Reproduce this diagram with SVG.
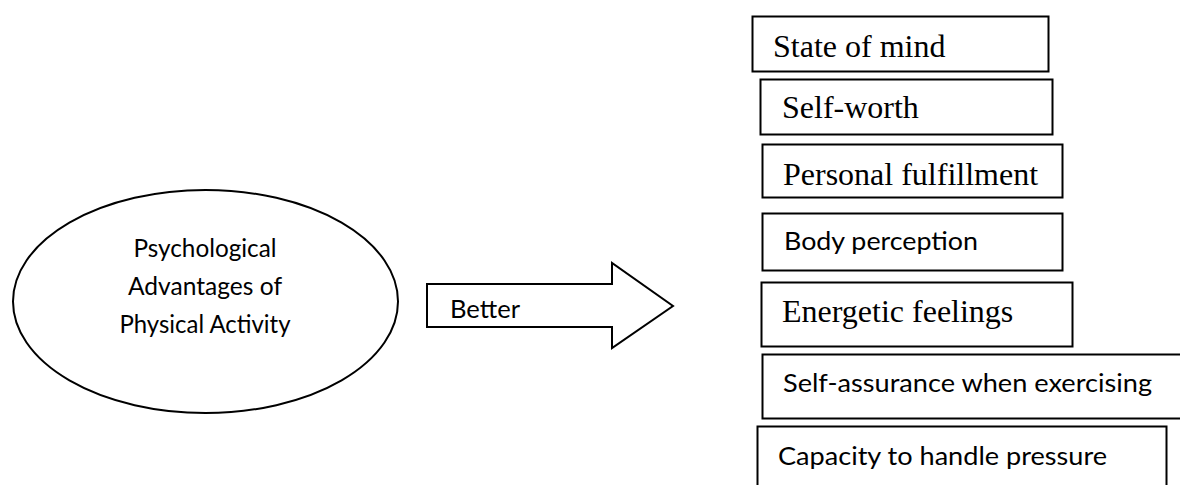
<svg xmlns="http://www.w3.org/2000/svg" width="1180" height="485" viewBox="0 0 1180 485">
  <style>
    .shape { fill: #ffffff; stroke: #000000; stroke-width: 2; }
    .serif { font-family: "Liberation Serif", "Times New Roman", serif; font-size: 32px; fill: #000000; }
    .sans { font-family: Lato, "Liberation Sans", sans-serif; font-size: 25px; fill: #000000; }
  </style>
  <rect x="0" y="0" width="1180" height="485" fill="#ffffff"/>

  <g id="node-center">
    <ellipse class="shape" cx="205.5" cy="301.5" rx="192.5" ry="111.5"/>
    <text class="sans" x="205" y="257" text-anchor="middle" textLength="143" lengthAdjust="spacingAndGlyphs">Psychological</text>
    <text class="sans" x="205" y="295" text-anchor="middle" textLength="154" lengthAdjust="spacingAndGlyphs">Advantages of</text>
    <text class="sans" x="205" y="333" text-anchor="middle" textLength="171" lengthAdjust="spacingAndGlyphs">Physical Activity</text>
  </g>

  <g id="connectors">
    <g id="arrow-better">
      <polygon class="shape" points="427,284 612,284 612,263 673,306 612,348 612,327 427,327"/>
      <text class="sans" x="450" y="318" textLength="70" lengthAdjust="spacingAndGlyphs">Better</text>
    </g>
  </g>

  <g id="node-state-of-mind">
    <rect class="shape" x="752.5" y="16.5" width="296" height="55"/>
    <text class="serif" x="773" y="57">State of mind</text>
  </g>
  <g id="node-self-worth">
    <rect class="shape" x="760.5" y="79.5" width="292" height="55"/>
    <text class="serif" x="782" y="118">Self-worth</text>
  </g>
  <g id="node-personal-fulfillment">
    <rect class="shape" x="762.5" y="144.5" width="300" height="53"/>
    <text class="serif" x="783" y="185">Personal fulfillment</text>
  </g>
  <g id="node-body-perception">
    <rect class="shape" x="762.5" y="213.5" width="300" height="57"/>
    <text class="sans" x="784" y="250" textLength="194" lengthAdjust="spacingAndGlyphs">Body perception</text>
  </g>
  <g id="node-energetic-feelings">
    <rect class="shape" x="761.5" y="282.5" width="311" height="64"/>
    <text class="serif" x="782" y="322">Energetic feelings</text>
  </g>
  <g id="node-self-assurance">
    <rect class="shape" x="762.5" y="354.5" width="420" height="64"/>
    <text class="sans" x="783" y="392" textLength="369" lengthAdjust="spacingAndGlyphs">Self-assurance when exercising</text>
  </g>
  <g id="node-capacity">
    <rect class="shape" x="757.5" y="426.5" width="409" height="64"/>
    <text class="sans" x="778" y="465" textLength="329" lengthAdjust="spacingAndGlyphs">Capacity to handle pressure</text>
  </g>
</svg>
